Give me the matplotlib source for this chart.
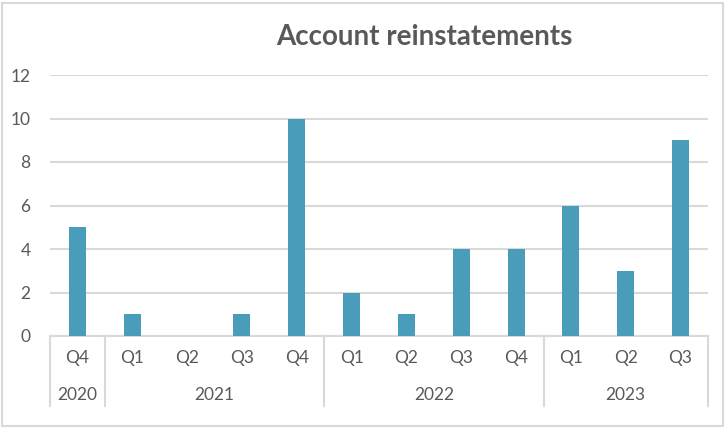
import matplotlib.pyplot as plt
import matplotlib.transforms as mtransforms
import numpy as np

# Datos
quarters = ['Q4', 'Q1', 'Q2', 'Q3', 'Q4', 'Q1', 'Q2', 'Q3', 'Q4', 'Q1', 'Q2', 'Q3']
years = ['2020', '2021', '2022', '2023']
year_counts = [1, 4, 4, 3]
values = [5, 1, 0, 1, 10, 2, 1, 4, 4, 6, 3, 9]

bar_color = '#4A9DBA'
text_color = '#595959'
grid_color = '#D9D9D9'

plt.rcParams['font.family'] = ['Lato', 'DejaVu Sans']

fig = plt.figure(figsize=(7.26, 4.28), dpi=100)
ax = fig.add_axes([50/726, 1 - 336/428, (708 - 50)/726, (336 - 75)/428])

x = np.arange(len(values))
ax.bar(x, values, width=0.31, color=bar_color, zorder=3)

ax.set_xlim(-0.5, len(values) - 0.5)
ax.set_ylim(0, 12)
ax.set_yticks(range(0, 13, 2))
ax.tick_params(axis='y', length=0, labelsize=12.5, labelcolor=text_color, pad=14)
ax.set_xticks([])
ax.grid(axis='y', color=grid_color, linewidth=1.5, zorder=0)
for s in ['top', 'right', 'left']:
    ax.spines[s].set_visible(False)
ax.spines['bottom'].set_color(grid_color)
ax.spines['bottom'].set_linewidth(1.5)

# Etiquetas de categorías en dos niveles
trans = mtransforms.blended_transform_factory(ax.transData, ax.transAxes)
axis_h = 336 - 75
for xi, q in zip(x, quarters):
    ax.text(xi, -(358 - 336) / axis_h, q, transform=trans, ha='center', va='center',
            fontsize=12.5, color=text_color)

bounds = [-0.5]
start = -0.5
for yr, n in zip(years, year_counts):
    end = start + n
    ax.text((start + end) / 2, -(395 - 336) / axis_h, yr, transform=trans,
            ha='center', va='center', fontsize=12.5, color=text_color)
    bounds.append(end)
    start = end

for b in bounds:
    ax.plot([b, b], [0, -(406 - 336) / axis_h], transform=trans, color=grid_color,
            linewidth=1.5, clip_on=False)

fig.text(424/726, 1 - 37/428, 'Account reinstatements', ha='center', va='center',
         fontsize=20, fontweight='bold', color=text_color)

# Borde exterior
fig.patches.append(plt.Rectangle((1.5/726, 2/428), 721/726, 423/428, transform=fig.transFigure,
                                 fill=False, edgecolor=grid_color, linewidth=1.5))

fig.savefig('out.png', dpi=100)
